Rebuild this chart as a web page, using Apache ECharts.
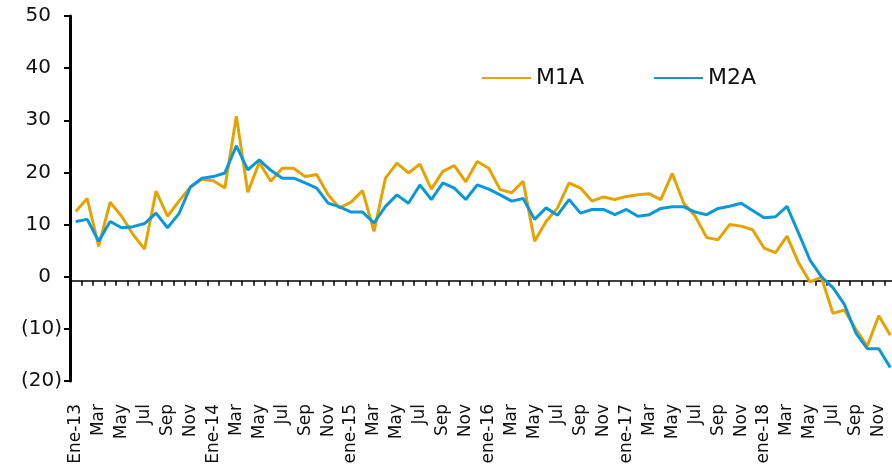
<!DOCTYPE html>
<html>
<head>
<meta charset="utf-8">
<script src="https://cdn.jsdelivr.net/npm/echarts@6/dist/echarts.min.js"></script>
<style>
html,body{margin:0;padding:0;background:#fff;}
#chart{width:892px;height:473px;}
</style>
</head>
<body>
<div id="chart"></div>
<script>
var categories = [
  'Ene-13','Feb','Mar','Abr','May','Jun','Jul','Ago','Sep','Oct','Nov','Dic',
  'Ene-14','Feb','Mar','Abr','May','Jun','Jul','Ago','Sep','Oct','Nov','Dic',
  'ene-15','Feb','Mar','Abr','May','Jun','Jul','Ago','Sep','Oct','Nov','Dic',
  'ene-16','Feb','Mar','Abr','May','Jun','Jul','Ago','Sep','Oct','Nov','Dic',
  'ene-17','Feb','Mar','Abr','May','Jun','Jul','Ago','Sep','Oct','Nov','Dic',
  'ene-18','Feb','Mar','Abr','May','Jun','Jul','Ago','Sep','Oct','Nov','Dic'
];
var m1a = [
  12.5, 15.0, 5.8, 14.3, 11.6, 8.1, 5.3, 16.4, 11.6, 14.5, 17.2, 18.7,
  18.4, 17.0, 30.8, 16.2, 21.9, 18.3, 20.8, 20.8, 19.2, 19.6, 15.7, 13.2,
  14.3, 16.5, 8.7, 18.9, 21.8, 19.9, 21.6, 16.8, 20.2, 21.3, 18.2, 22.1,
  20.8, 16.7, 16.1, 18.3, 6.8, 10.6, 13.2, 18.0, 17.0, 14.5, 15.3, 14.8,
  15.4, 15.7, 15.9, 14.8, 19.8, 14.1, 11.6, 7.5, 7.1, 10.0, 9.7, 9.0,
  5.5, 4.6, 7.8, 2.7, -1.0, -0.1, -7.0, -6.4, -10.1, -13.3, -7.5, -11.2
];
var m2a = [
  10.6, 11.0, 6.8, 10.6, 9.4, 9.6, 10.2, 12.2, 9.4, 12.1, 17.2, 18.9,
  19.2, 19.9, 25.1, 20.5, 22.4, 20.4, 18.9, 18.9, 18.0, 17.0, 14.1, 13.4,
  12.4, 12.4, 10.3, 13.5, 15.7, 14.1, 17.6, 14.8, 18.0, 17.0, 14.8, 17.6,
  16.8, 15.7, 14.5, 15.0, 11.0, 13.2, 11.8, 14.8, 12.2, 12.9, 12.9, 11.9,
  12.9, 11.6, 11.9, 13.1, 13.4, 13.4, 12.4, 11.9, 13.1, 13.5, 14.1, 12.7,
  11.3, 11.5, 13.5, 8.4, 3.2, 0.0, -2.1, -5.3, -10.8, -13.8, -13.8, -17.4
];
var yTicks = {min: -20, max: 50, interval: 10};
var axisCross = -0.75;

var FONT = 'DejaVu Sans';
var chart = echarts.init(document.getElementById('chart'), null, {renderer: 'canvas'});
chart.setOption({
  animation: false,
  backgroundColor: '#ffffff',
  textStyle: {fontFamily: FONT},
  grid: {left: 70, top: 16, right: -4, bottom: 92, containLabel: false, outerBoundsMode: 'none'},
  legend: {
    data: ['M1A', 'M2A'],
    left: 477, top: 62,
    itemWidth: 49, itemHeight: 14, itemGap: 70,
    icon: 'path://M0,0 L49,0 L49,2 L0,2 Z',
    textStyle: {fontFamily: FONT, fontSize: 22, color: '#111', padding: [0,0,0,0]}
  },
  xAxis: [{
    type: 'category', data: categories, position: 'bottom', boundaryGap: true,
    axisLine: {show: true, onZero: true, onZeroAxisIndex: 1, lineStyle: {color: '#000', width: 1.5}},
    axisTick: {show: true, length: 5, lineStyle: {color: '#000', width: 1.5}, interval: 0},
    axisLabel: {show: false},
    splitLine: {show: false}
  }, {
    type: 'category', data: categories, position: 'bottom', boundaryGap: true,
    axisLine: {show: false, onZero: false},
    axisTick: {show: false},
    axisLabel: {show: true, interval: 1, rotate: 90, align: 'right', verticalAlign: 'middle',
      margin: 23, fontSize: 17, color: '#111', fontFamily: FONT},
    splitLine: {show: false}
  }],
  yAxis: [{
    type: 'value', min: yTicks.min, max: yTicks.max, interval: yTicks.interval,
    axisLine: {show: true, lineStyle: {color: '#000', width: 3}},
    axisTick: {show: true, length: 6, lineStyle: {color: '#000', width: 2}},
    splitLine: {show: false},
    axisLabel: {
      margin: 8, fontSize: 20, color: '#111', fontFamily: FONT,
      formatter: function (v) {
        if (v < 0) return '{n|(' + (-v) + ')}';
        return '{p|' + v + '}';
      },
      rich: {
        n: {fontSize: 20, fontFamily: FONT, color: '#111'},
        p: {fontSize: 20, fontFamily: FONT, color: '#111', padding: [0, 11, 0, 0]}
      }
    }
  }, {
    type: 'value', show: false,
    min: yTicks.min - axisCross, max: yTicks.max - axisCross,
    axisLine: {show: false}, axisTick: {show: false}, axisLabel: {show: false}, splitLine: {show: false}
  }],
  series: [{
    name: 'M1A', type: 'line', data: m1a, xAxisIndex: 0, yAxisIndex: 0,
    symbol: 'none', color: '#E8A200',
    lineStyle: {color: '#E8A200', width: 3}, z: 2
  }, {
    name: 'M2A', type: 'line', data: m2a, xAxisIndex: 0, yAxisIndex: 0,
    symbol: 'none', color: '#0A98D8',
    lineStyle: {color: '#0A98D8', width: 3}, z: 3
  }]
});
</script>
</body>
</html>
